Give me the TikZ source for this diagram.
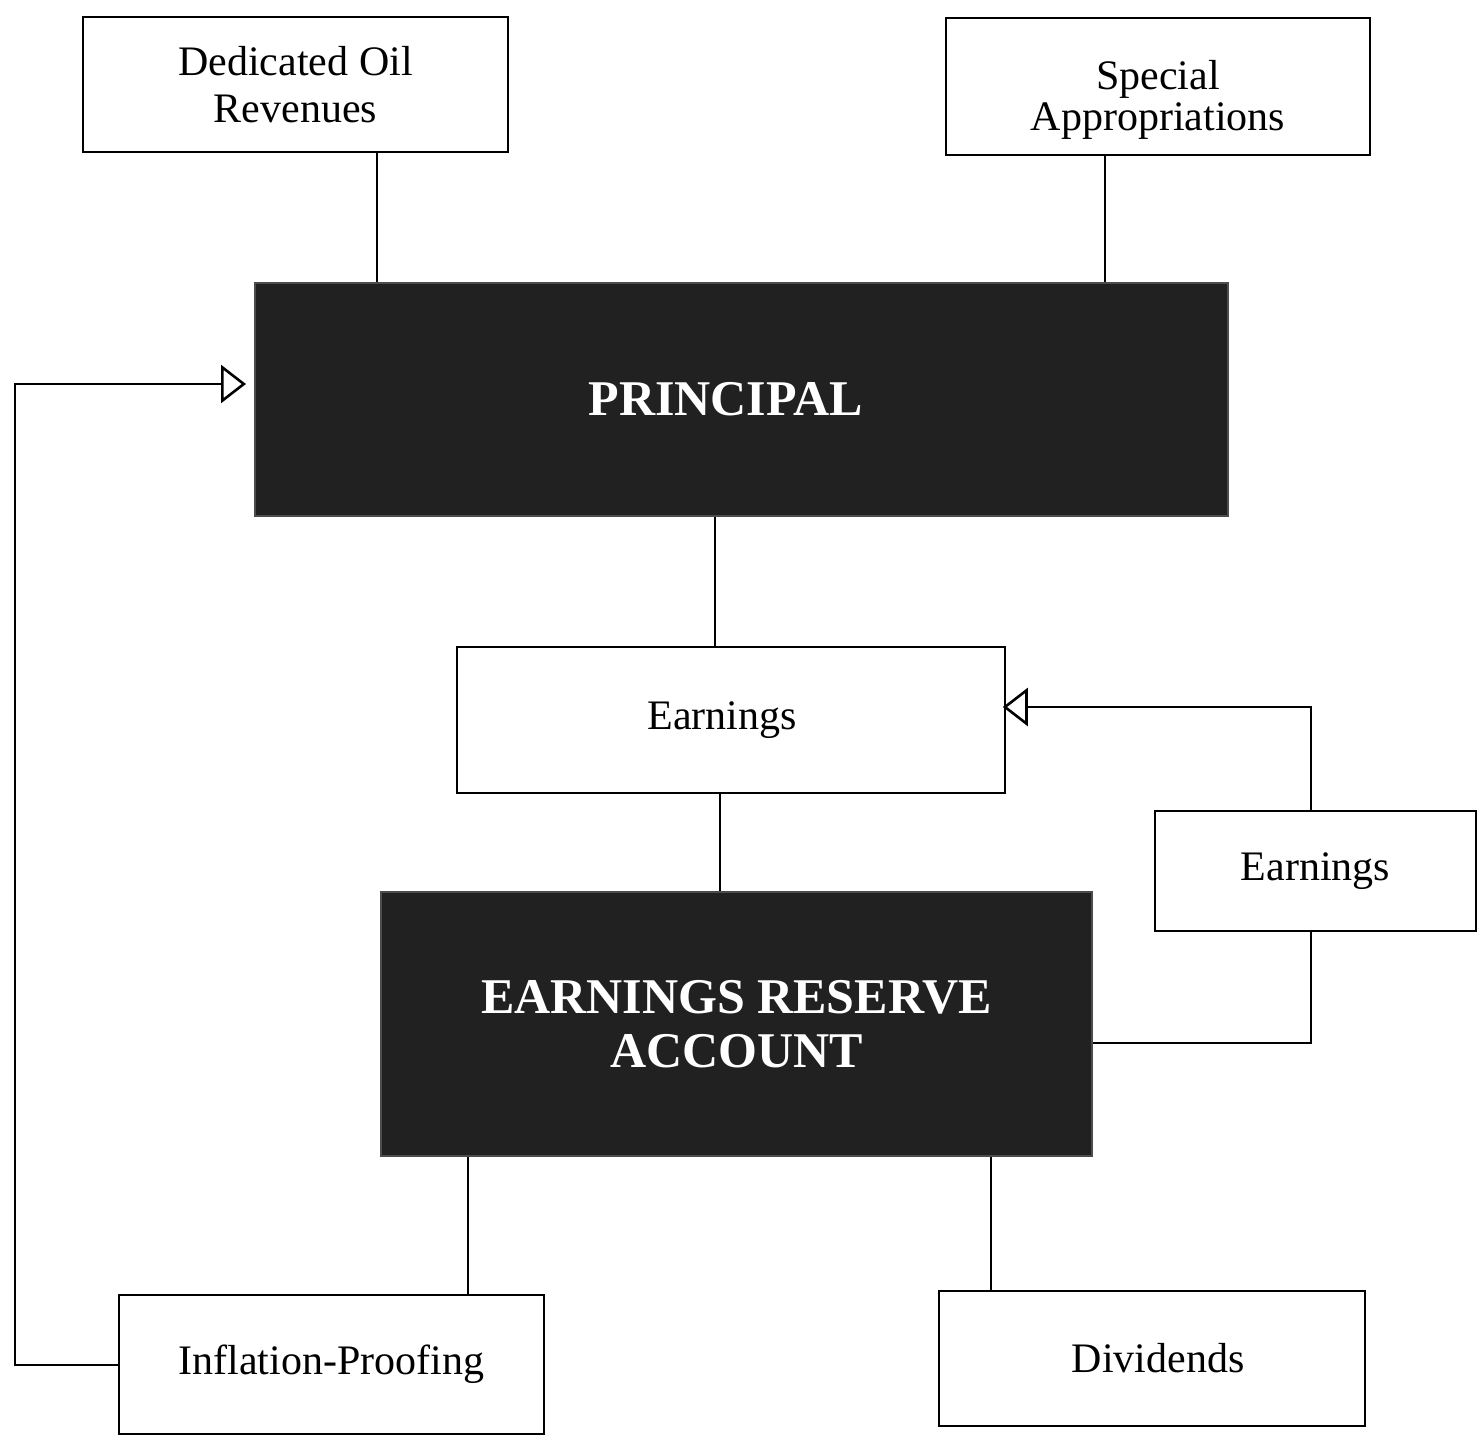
\documentclass[tikz,border=0pt]{standalone}
\usepackage{fontspec}
\setmainfont{Liberation Serif}
\usetikzlibrary{arrows.meta}

\begin{document}
\begin{tikzpicture}[
        x=1pt, y=-1pt,
        line width=2pt,
        box/.style={draw, line width=1.6pt, align=center, inner sep=0pt,
            font=\fontsize{42}{47}\selectfont},
        darkbox/.style={fill=black!87, draw=black!70, align=center, inner sep=0pt,
            text=white, font=\fontsize{50}{54}\selectfont\bfseries},
        link/.style={line width=2pt},
        openarrow/.style={-{Triangle[open,length=25pt,width=38pt,line width=2.6pt]}}
    ]
        \fill[white] (0,0) rectangle (1481,1442);
        \useasboundingbox (0,0) rectangle (1481,1442);

        \node[box, minimum width=425pt, minimum height=135pt] (oil) at (295.5,84.5)
            {Dedicated Oil\\Revenues};
        \node[box, minimum width=424pt, minimum height=137pt] (special) at (1158,86.5)
            {\raisebox{-20pt}[0pt][0pt]{\begin{tabular}{@{}c@{}}Special\\[-6pt]Appropriations\end{tabular}}};
        \node[darkbox, minimum width=973pt, minimum height=233pt] (principal) at (741.5,399.5)
            {\hspace*{-32pt}PRINCIPAL};
        \node[box, minimum width=548pt, minimum height=146pt] (earnmid) at (731,720)
            {\hspace*{-18pt}Earnings};
        \node[box, minimum width=321pt, minimum height=120pt] (earnright) at (1315.5,871)
            {Earnings};
        \node[darkbox, minimum width=711pt, minimum height=264pt] (reserve) at (736.5,1024)
            {EARNINGS RESERVE\\ACCOUNT};
        \node[box, minimum width=425pt, minimum height=139pt] (inflation) at (331.5,1364.5)
            {Inflation-Proofing};
        \node[box, minimum width=426pt, minimum height=135pt] (dividends) at (1152,1358.5)
            {\hspace*{12pt}Dividends};

        \draw[link] (oil.south -| 377,0) -- (principal.north -| 377,0);
        \draw[link] (special.south -| 1105,0) -- (principal.north -| 1105,0);
        \draw[link] (principal.south -| 715,0) -- (earnmid.north -| 715,0);
        \draw[link] (earnmid.south -| 720,0) -- (reserve.north -| 720,0);
        \draw[link] (reserve.south -| 468,0) -- (inflation.north -| 468,0);
        \draw[link] (reserve.south -| 991,0) -- (dividends.north -| 991,0);
        \draw[link] (reserve.east |- 0,1043) -| (earnright.south -| 1311,0);
        \draw[link, openarrow, shorten >=-3pt]
            (earnright.north -| 1311,0) |- (earnmid.east |- 0,707);
        \draw[link, openarrow, shorten >=8pt]
            (inflation.west) -| (15,384) -- (principal.west |- 0,384);
    \end{tikzpicture}
\end{document}
